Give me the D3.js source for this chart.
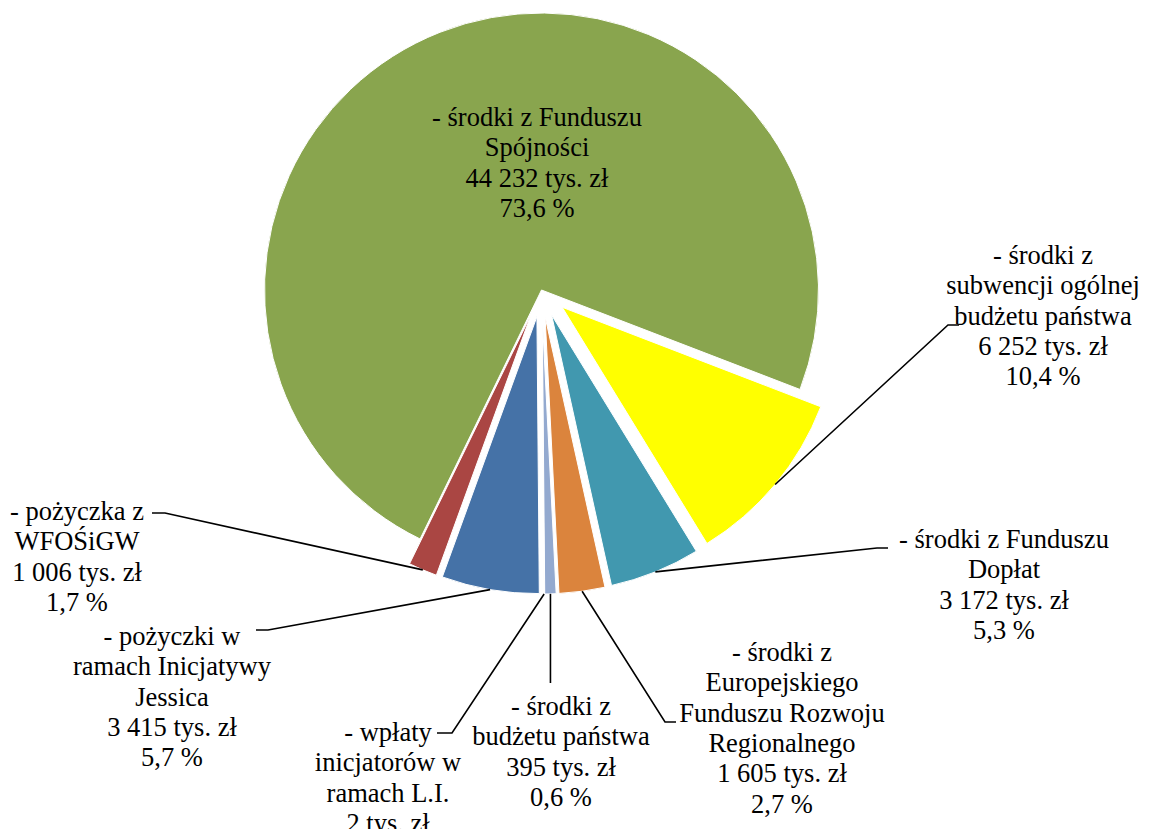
<!DOCTYPE html>
<html>
<head>
<meta charset="utf-8">
<script src="https://cdn.jsdelivr.net/npm/d3@7"></script>
<style>
  html, body { margin: 0; padding: 0; background: #fff; }
  svg { display: block; }
</style>
</head>
<body>
<script>
// Źródła finansowania – nazwy (wiersze etykiet), wartości w tys. zł, udziały procentowe
const categories = [
  ["- środki z Funduszu", "Spójności"],
  ["- środki z", "subwencji ogólnej", "budżetu państwa"],
  ["- środki z Funduszu", "Dopłat"],
  ["- środki z", "Europejskiego", "Funduszu Rozwoju", "Regionalnego"],
  ["- środki z", "budżetu państwa"],
  ["- wpłaty", "inicjatorów w", "ramach L.I."],
  ["- pożyczki w", "ramach Inicjatywy", "Jessica"],
  ["- pożyczka z", "WFOŚiGW"]
];
const values = [44232, 6252, 3172, 1605, 395, 2, 3415, 1006];
const percentLabels = ["73,6 %", "10,4 %", "5,3 %", "2,7 %", "0,6 %", "0,0 %", "5,7 %", "1,7 %"];
const colors = ["#89A54E", "#FFFF00", "#4198AF", "#DB843D", "#93A9CF", "#71588F", "#4572A7", "#AA4643"];

// Układ wykresu
const W = 1152, H = 829;
const cx = 541.5, cy = 290, R = 277;
const explode = [0, 27, 27, 27, 27, 27, 27, 27];
const firstSliceAngle = 206; // stopnie, zgodnie z ruchem wskazówek zegara od góry
const fontSize = 26.5, lineStep = 30.3;

// Położenie etykiet: środek pierwszego wiersza (linia bazowa) i punkt załamania linii odniesienia
const labelLayout = [
  { x: 537,  y: 126, leader: null },
  { x: 1043, y: 264, leader: { elbow: [948, 325], tick: 959 } },
  { x: 1004, y: 548, leader: { elbow: [877, 548], tick: 888 } },
  { x: 782,  y: 661, leader: { elbow: [665, 722], tick: 676 } },
  { x: 561,  y: 715, leader: { elbow: [null, 683], tick: null } },
  { x: 388,  y: 741, leader: { elbow: [452, 733], tick: 437 } },
  { x: 172,  y: 645, leader: { elbow: [268, 630], tick: 256 } },
  { x: 77,   y: 520, leader: { elbow: [165, 513], tick: 152 } }
];

const fmt = d3.formatLocale({ decimal: ",", thousands: " ", grouping: [3], currency: ["", ""] }).format(",d");

const svg = d3.select("body").append("svg")
  .attr("width", W).attr("height", H)
  .style("font-family", "'Liberation Serif', 'Times New Roman', serif");

svg.append("rect").attr("width", W).attr("height", H).attr("fill", "#fff");

const a0 = firstSliceAngle * Math.PI / 180;
const pie = d3.pie().sort(null).value(d => d).startAngle(a0).endAngle(a0 + 2 * Math.PI);
const arcs = pie(values);
const arc = d3.arc().innerRadius(0).outerRadius(R);

const offset = (d, i) => {
  const m = (d.startAngle + d.endAngle) / 2;
  return [explode[i] * Math.sin(m), -explode[i] * Math.cos(m)];
};

const g = svg.append("g").attr("transform", `translate(${cx},${cy})`);

g.selectAll("path.slice")
  .data(arcs)
  .join("path")
  .attr("class", "slice")
  .attr("transform", (d, i) => { const o = offset(d, i); return `translate(${o[0]},${o[1]})`; })
  .attr("d", arc)
  .attr("fill", (d, i) => colors[i])
  .attr("stroke", "#fff")
  .attr("stroke-width", 1);

// Linie odniesienia od krawędzi wycinka do etykiety
const leaders = svg.append("g")
  .attr("fill", "none").attr("stroke", "#000").attr("stroke-width", 1.6);

arcs.forEach((d, i) => {
  const L = labelLayout[i].leader;
  if (!L) return;
  const m = (d.startAngle + d.endAngle) / 2;
  const rr = R + explode[i];
  const sx = cx + rr * Math.sin(m), sy = cy - rr * Math.cos(m);
  const ex = L.elbow[0] == null ? sx : L.elbow[0];
  const pts = [[sx, sy], [ex, L.elbow[1]]];
  if (L.tick != null) pts.push([L.tick, L.elbow[1]]);
  leaders.append("path").attr("d", d3.line()(pts));
});

// Etykiety danych
arcs.forEach((d, i) => {
  const lines = categories[i].concat([fmt(values[i]) + " tys. zł", percentLabels[i]]);
  const t = svg.append("text")
    .attr("text-anchor", "middle")
    .attr("font-size", fontSize)
    .attr("fill", "#000");
  lines.forEach((s, k) => {
    t.append("tspan")
      .attr("x", labelLayout[i].x)
      .attr("y", labelLayout[i].y + k * lineStep)
      .text(s);
  });
});
</script>
</body>
</html>
